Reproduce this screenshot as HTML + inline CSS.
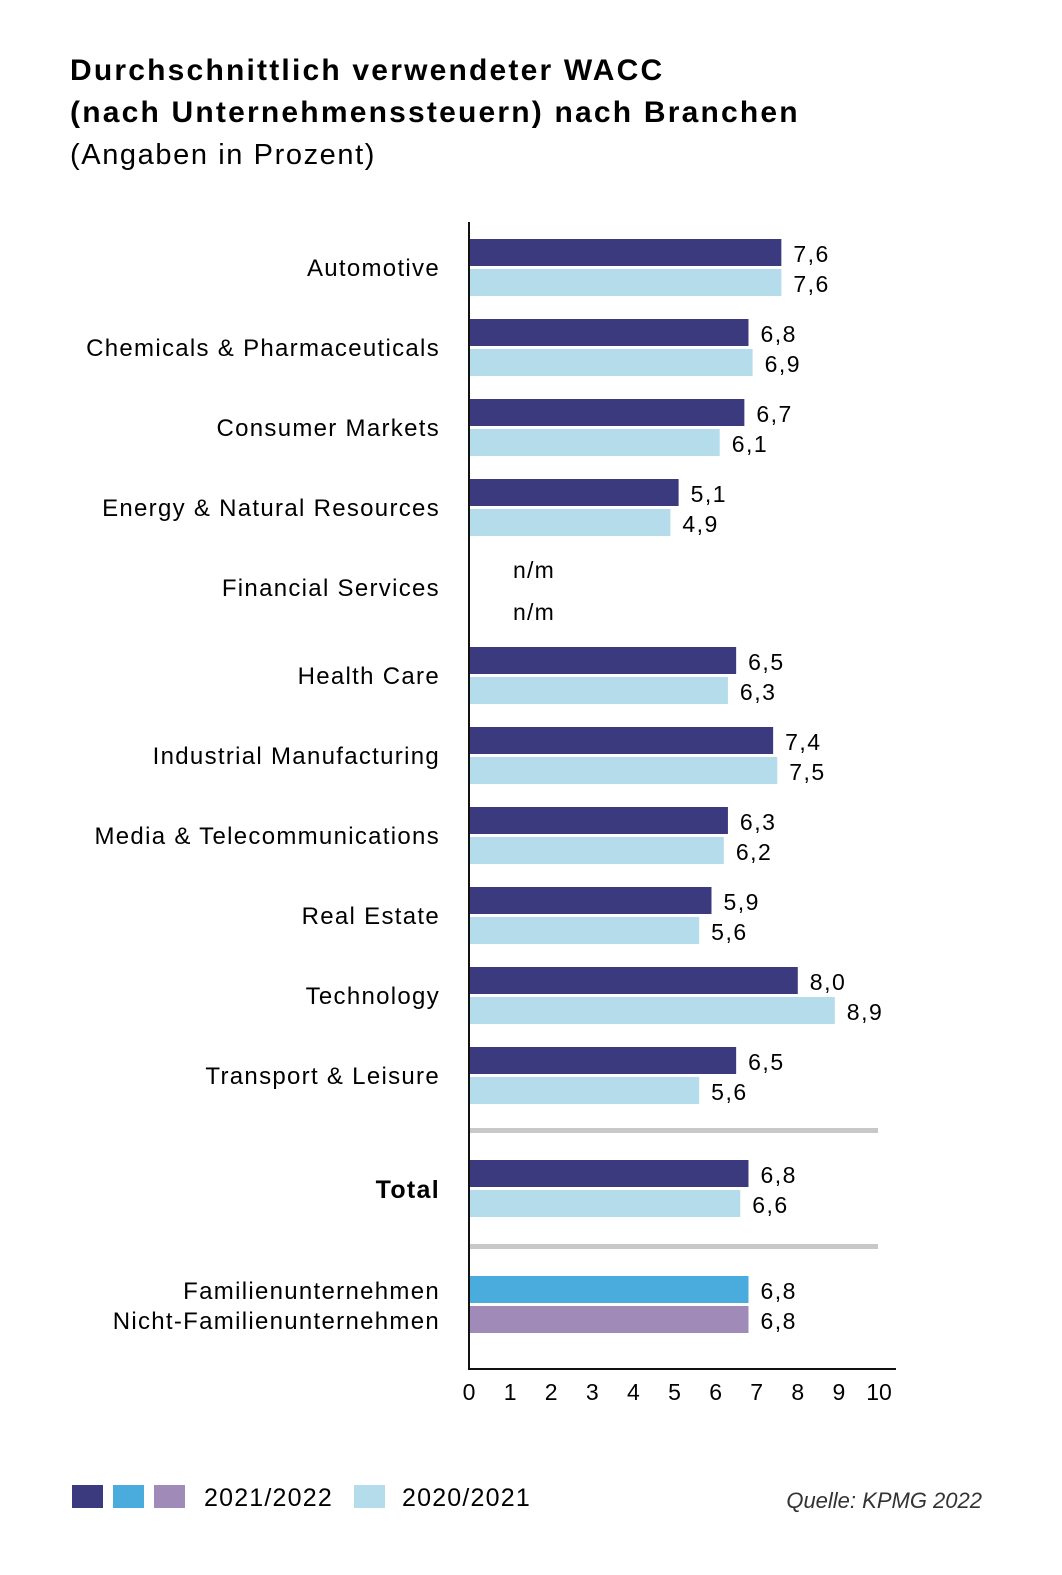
<!DOCTYPE html>
<html><head><meta charset="utf-8">
<style>
body{margin:0;background:#fff;width:1062px;height:1570px;overflow:hidden;font-family:"Liberation Sans",sans-serif;color:#111;}
svg text{font-family:"Liberation Sans",sans-serif;}
</style></head>
<body>
<svg width="1062" height="1570">
<text x="70" y="80" font-size="30" font-weight="bold" letter-spacing="2.2">Durchschnittlich verwendeter WACC</text>
<text x="70" y="122" font-size="30" font-weight="bold" letter-spacing="2.2">(nach Unternehmenssteuern) nach Branchen</text>
<text x="70" y="164" font-size="29" letter-spacing="1.6">(Angaben in Prozent)</text>
<g id="plot"></g>
<g>
<rect x="72" y="1485" width="31" height="23" fill="#3b3a7e"/>
<rect x="113" y="1485" width="31" height="23" fill="#4aacdc"/>
<rect x="154" y="1485" width="31" height="23" fill="#a08ab8"/>
<text x="204" y="1506" font-size="25" letter-spacing="1.2">2021/2022</text>
<rect x="354" y="1485" width="31" height="23" fill="#b4dceb"/>
<text x="402" y="1506" font-size="25" letter-spacing="1.2">2020/2021</text>
</g>
<text x="982" y="1508" font-size="22" font-style="italic" text-anchor="end" fill="#333">Quelle: KPMG 2022</text>
</svg>
<script>
const categories=["Automotive","Chemicals & Pharmaceuticals","Consumer Markets","Energy & Natural Resources","Financial Services","Health Care","Industrial Manufacturing","Media & Telecommunications","Real Estate","Technology","Transport & Leisure"];
const values2122=[7.6,6.8,6.7,5.1,null,6.5,7.4,6.3,5.9,8.0,6.5];
const values2021=[7.6,6.9,6.1,4.9,null,6.3,7.5,6.2,5.6,8.9,5.6];
const rowTops=[239,319,399,479,559,647,727,807,887,967,1047];
const totalValues=[6.8,6.6];
const familyLabels=["Familienunternehmen","Nicht-Familienunternehmen"];
const familyValues=[6.8,6.8];
const ticks=[0,1,2,3,4,5,6,7,8,9,10];
const NS="http://www.w3.org/2000/svg";
const g=document.getElementById('plot');
const x0=469,ppu=41.1;
const xs=v=>x0+v*ppu;
const fmt=v=>v.toFixed(1).replace('.',',');
function el(t,a,txt){const e=document.createElementNS(NS,t);for(const k in a)e.setAttribute(k,a[k]);if(txt!=null)e.textContent=txt;g.appendChild(e);return e;}
function bar(v,y,fill,name){
 const r=el('rect',{x:x0,y:y,width:xs(v)-x0,height:27,fill:fill});
 
 
 const t=el('text',{x:xs(v)+12,y:y+23,'font-size':23,'letter-spacing':1.5},fmt(v));
 
 
}
categories.forEach((c,i)=>{
 const y=rowTops[i];
 const lab=el('text',{x:440,y:y+37,'font-size':24,'text-anchor':'end','letter-spacing':1.3},c);
 
 
 if(values2122[i]==null){
  const a=el('text',{x:513,y:578,'font-size':23,'letter-spacing':1.2},'n/m');
  
  
  const b=el('text',{x:513,y:620,'font-size':23,'letter-spacing':1.2},'n/m');
  
  
 } else {
  bar(values2122[i],y,'#3b3a7e','bar-2021-2022');
  bar(values2021[i],y+30,'#b4dceb','bar-2020-2021');
 }
});
[1130,1246].forEach(y=>{const s=el('rect',{x:x0,y:y-2,width:409,height:5,fill:'#c8c8c8'});
 
 });
const tl=el('text',{x:440,y:1198,'font-size':25,'font-weight':'bold','text-anchor':'end','letter-spacing':1.3},'Total');


bar(totalValues[0],1160,'#3b3a7e','bar-total-2021-2022');
bar(totalValues[1],1190,'#b4dceb','bar-total-2020-2021');
const fcol=['#4aacdc','#a08ab8'];
familyLabels.forEach((l,i)=>{
 const y=1276+i*30;
 const t=el('text',{x:440,y:y+23,'font-size':24,'text-anchor':'end','letter-spacing':1.3},l);
 
 
 bar(familyValues[i],y,fcol[i],i?'bar-nonfamily':'bar-family');
});
const ya=el('line',{x1:x0,y1:222,x2:x0,y2:1369,stroke:'#111','stroke-width':2});


const xa=el('line',{x1:x0-1,y1:1369,x2:896,y2:1369,stroke:'#111','stroke-width':2});


ticks.forEach(v=>{const t=el('text',{x:xs(v)+(v==10?-1:0),y:1400,'font-size':23,'text-anchor':'middle'},String(v));
 
 });
</script>
</body></html>
